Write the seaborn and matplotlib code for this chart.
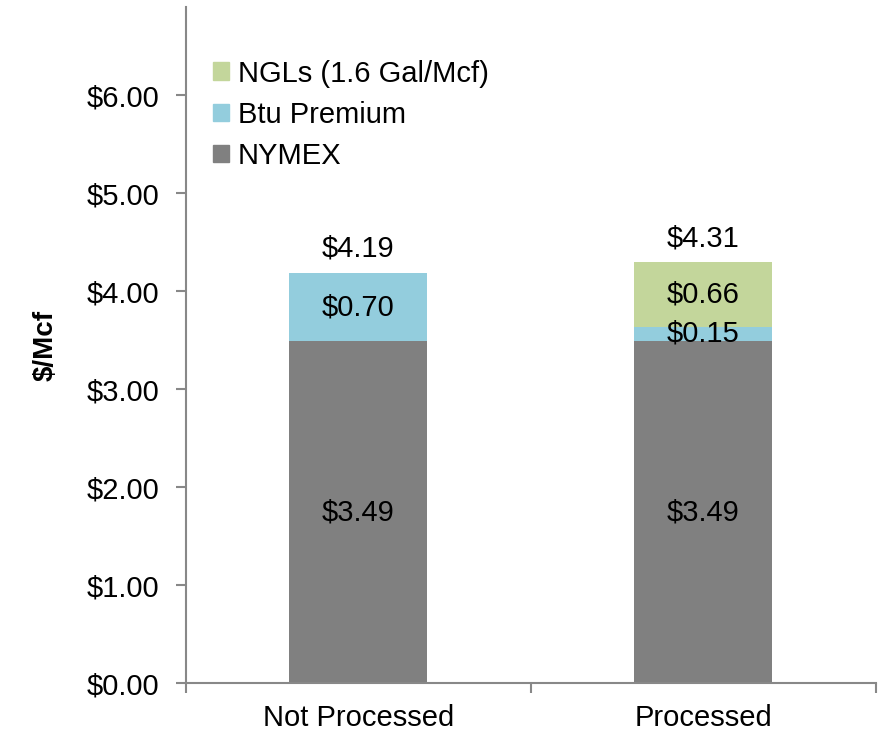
import pandas as pd
import matplotlib.pyplot as plt
import seaborn as sns
from matplotlib.patches import Patch

# data
categories = ['Not Processed', 'Processed']
nymex = [3.49, 3.49]
btu_premium = [0.70, 0.15]
ngls = [0.00, 0.66]
totals_text = ['$4.19', '$4.31']

sns.set_style('white')
plt.rcParams['font.family'] = ['Liberation Sans', 'DejaVu Sans']
plt.rcParams['text.color'] = 'black'
plt.rcParams['axes.labelcolor'] = 'black'
plt.rcParams['xtick.color'] = 'black'
plt.rcParams['ytick.color'] = 'black'

df = pd.DataFrame({'category': categories, 'NYMEX': nymex,
                   'Btu': btu_premium, 'NGL': ngls})
df['lvl2'] = df['NYMEX'] + df['Btu']
df['lvl3'] = df['lvl2'] + df['NGL']

c_nymex = '#808080'
c_btu = '#93cddd'
c_ngl = '#c3d69b'

fig = plt.figure(figsize=(8.81, 7.33), dpi=100)
ax = fig.add_axes([0.211, 0.068, 0.783, 0.922])

# stacked bars drawn as cumulative layers, tallest first
for col, c in [('lvl3', c_ngl), ('lvl2', c_btu), ('NYMEX', c_nymex)]:
    sns.barplot(data=df, x='category', y=col, color=c, width=0.4,
                saturation=1, linewidth=0, edgecolor='none', ax=ax)

fs = 21
for i in range(len(df)):
    ax.text(i, df['NYMEX'][i] / 2, f"${df['NYMEX'][i]:.2f}",
            ha='center', va='center', fontsize=fs)
    if df['Btu'][i] > 0:
        ax.text(i, df['NYMEX'][i] + df['Btu'][i] / 2, f"${df['Btu'][i]:.2f}",
                ha='center', va='center', fontsize=fs)
    if df['NGL'][i] > 0:
        ax.text(i, df['lvl2'][i] + df['NGL'][i] / 2, f"${df['NGL'][i]:.2f}",
                ha='center', va='center', fontsize=fs)
    ax.text(i, df['lvl3'][i] + 0.1, totals_text[i], ha='center',
            va='bottom', fontsize=fs)

ax.set_xlim(-0.5, 1.5)
ax.set_ylim(0, 6.9)
ax.set_yticks([0, 1, 2, 3, 4, 5, 6])
ax.set_yticklabels([f'${v:.2f}' for v in range(7)])
ax.set_xticks([-0.5, 0.5, 1.5], minor=True)
ax.tick_params(axis='x', which='major', length=0, labelsize=fs, pad=15)
ax.tick_params(axis='x', which='minor', bottom=True, length=7,
               color='#888888', width=1.5)
ax.tick_params(axis='y', left=True, length=7, color='#888888', width=1.5,
               labelsize=fs, pad=12)
ax.set_xlabel('')
ax.set_ylabel('$/Mcf', fontsize=20, fontweight='bold', labelpad=20)

for s in ['top', 'right']:
    ax.spines[s].set_visible(False)
for s in ['left', 'bottom']:
    ax.spines[s].set_color('#888888')
    ax.spines[s].set_linewidth(1.5)

handles = [Patch(color=c_ngl, label='NGLs (1.6 Gal/Mcf)'),
           Patch(color=c_btu, label='Btu Premium'),
           Patch(color=c_nymex, label='NYMEX')]
ax.legend(handles=handles, loc='upper left', bbox_to_anchor=(0.022, 0.94),
          frameon=False, fontsize=fs, handlelength=0.55, handleheight=0.55,
          handletextpad=0.3, labelspacing=0.45, borderaxespad=0)

fig.savefig('out.png', dpi=100)
